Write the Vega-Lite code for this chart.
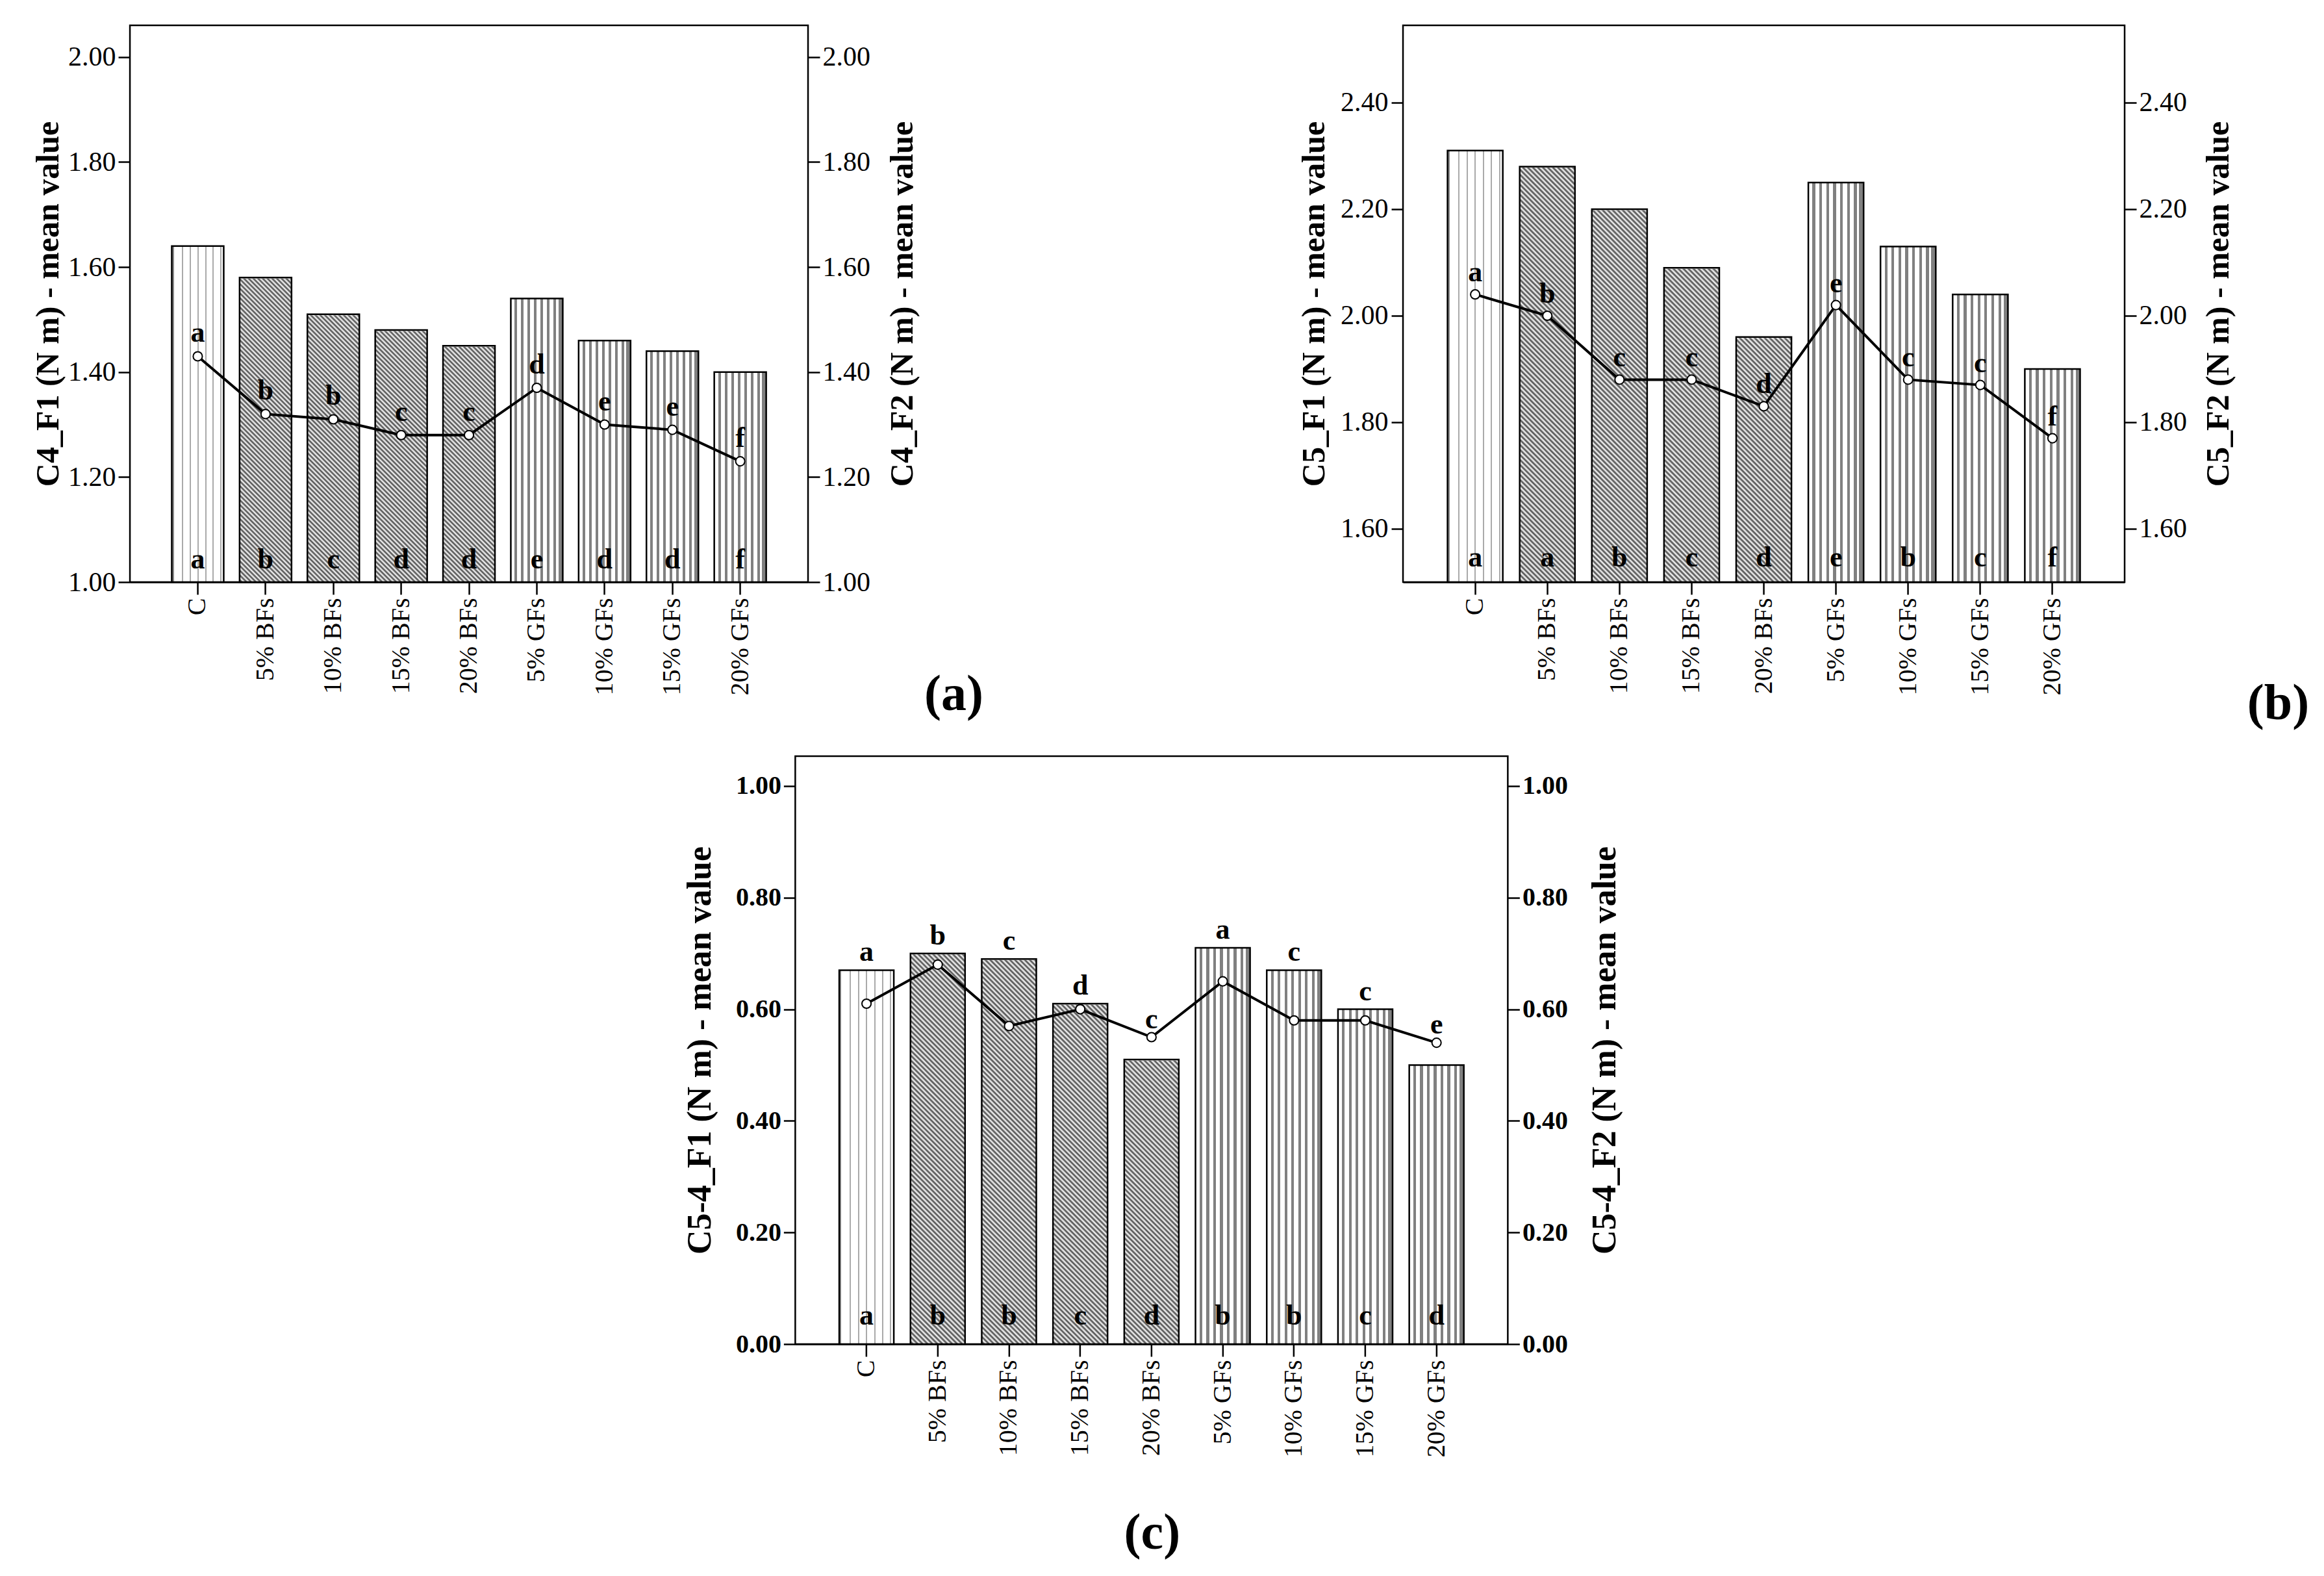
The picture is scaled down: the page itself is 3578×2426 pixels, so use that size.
{
"$schema": "https://vega.github.io/schema/vega-lite/v6.json",
"background": "white",
"padding": {"left": 48, "top": 37, "right": 0, "bottom": 0},
"spacing": 38,
"center": true,
"config": {
 "font": "Liberation Serif",
 "view": {"stroke": "black", "strokeWidth": 2.5},
 "axis": {"grid": false, "labelColor": "black", "titleColor": "black", "tickColor": "black", "domainColor": "black", "labelFont": "Liberation Serif", "titleFont": "Liberation Serif"},
 "title": {"font": "Liberation Serif", "color": "black"},
 "text": {"font": "Liberation Serif"}
},
"vconcat": [
 {"hconcat": [
  {
   "width": 1044, "height": 857,
   "data": {"values": [
    {"cat":"C","g":"C","f1":1.64,"f2":1.43,"lt":"a","lb":"a"},
    {"cat":"5% BFs","g":"BF","f1":1.58,"f2":1.32,"lt":"b","lb":"b"},
    {"cat":"10% BFs","g":"BF","f1":1.51,"f2":1.31,"lt":"b","lb":"c"},
    {"cat":"15% BFs","g":"BF","f1":1.48,"f2":1.28,"lt":"c","lb":"d"},
    {"cat":"20% BFs","g":"BF","f1":1.45,"f2":1.28,"lt":"c","lb":"d"},
    {"cat":"5% GFs","g":"GF","f1":1.54,"f2":1.37,"lt":"d","lb":"e"},
    {"cat":"10% GFs","g":"GF","f1":1.46,"f2":1.30,"lt":"e","lb":"d"},
    {"cat":"15% GFs","g":"GF","f1":1.44,"f2":1.29,"lt":"e","lb":"d"},
    {"cat":"20% GFs","g":"GF","f1":1.40,"f2":1.23,"lt":"f","lb":"f"}
   ]},
   "encoding": {"x": {"field": "cat", "type": "nominal",
     "scale": {"domain": ["C","5% BFs","10% BFs","15% BFs","20% BFs","5% GFs","10% GFs","15% GFs","20% GFs"], "paddingInner": 0.234, "paddingOuter": 0.617},
     "axis": {"title": "(a)", "titleX": 1268, "titleY": 173, "titleAlign": "center", "titleBaseline": "middle", "titleFontSize": 78, "titleFontWeight": "bold", "labelAngle": -90, "labelFontSize": 40, "labelPadding": 5, "tickSize": 19, "tickWidth": 2.5, "domainWidth": 2.5}}},
   "layer": [
    {"layer": [
     {"transform": [{"filter": "datum.g === 'C'"}], "mark": {"type": "bar", "stroke": "black", "strokeWidth": 2.5, "fill": {"gradient": "linear", "x1": 0, "y1": 0, "x2": 1, "y2": 0, "stops": [
   {"offset":0,"color":"#888"},{"offset":0.04,"color":"#888"},{"offset":0.04,"color":"#fff"},{"offset":0.19,"color":"#fff"},{"offset":0.19,"color":"#aaa"},{"offset":0.215,"color":"#aaa"},{"offset":0.215,"color":"#fff"},{"offset":0.34,"color":"#fff"},{"offset":0.34,"color":"#aaa"},{"offset":0.365,"color":"#aaa"},{"offset":0.365,"color":"#fff"},{"offset":0.49,"color":"#fff"},{"offset":0.49,"color":"#aaa"},{"offset":0.515,"color":"#aaa"},{"offset":0.515,"color":"#fff"},{"offset":0.64,"color":"#fff"},{"offset":0.64,"color":"#aaa"},{"offset":0.665,"color":"#aaa"},{"offset":0.665,"color":"#fff"},{"offset":0.78,"color":"#fff"},{"offset":0.78,"color":"#aaa"},{"offset":0.805,"color":"#aaa"},{"offset":0.805,"color":"#fff"},{"offset":0.93,"color":"#fff"},{"offset":0.93,"color":"#aaa"},{"offset":0.955,"color":"#aaa"},{"offset":0.955,"color":"#fff"},{"offset":1,"color":"#fff"}]}},
      "encoding": {"y": {"field": "f1", "type": "quantitative", "title": "C4_F1 (N m) - mean value", "scale": {"domain": [1, 2.0604], "nice": false, "zero": false},
        "axis": {"orient": "left", "values": [1, 1.2, 1.4, 1.6, 1.8, 2], "format": ".2f", "domain": false, "tickSize": 18, "tickWidth": 2.5, "labelFontSize": 42, "labelPadding": 4, "titleFontSize": 50, "titleFontWeight": "bold", "titlePadding": 5}},
       "y2": {"datum": 1}}},
     {"transform": [{"filter": "datum.g === 'GF'"}], "mark": {"type": "bar", "stroke": "black", "strokeWidth": 2.5, "fill": {"gradient": "linear", "x1": 0, "y1": 0, "x2": 1, "y2": 0, "stops": [
   {"offset":0,"color":"#fff"},{"offset":0.075,"color":"#fff"},{"offset":0.075,"color":"#808080"},{"offset":0.125,"color":"#808080"},
   {"offset":0.125,"color":"#fff"},{"offset":0.2,"color":"#fff"},{"offset":0.2,"color":"#808080"},{"offset":0.25,"color":"#808080"},
   {"offset":0.25,"color":"#fff"},{"offset":0.325,"color":"#fff"},{"offset":0.325,"color":"#808080"},{"offset":0.375,"color":"#808080"},
   {"offset":0.375,"color":"#fff"},{"offset":0.45,"color":"#fff"},{"offset":0.45,"color":"#808080"},{"offset":0.5,"color":"#808080"},
   {"offset":0.5,"color":"#fff"},{"offset":0.575,"color":"#fff"},{"offset":0.575,"color":"#808080"},{"offset":0.625,"color":"#808080"},
   {"offset":0.625,"color":"#fff"},{"offset":0.7,"color":"#fff"},{"offset":0.7,"color":"#808080"},{"offset":0.75,"color":"#808080"},
   {"offset":0.75,"color":"#fff"},{"offset":0.825,"color":"#fff"},{"offset":0.825,"color":"#808080"},{"offset":0.875,"color":"#808080"},
   {"offset":0.875,"color":"#fff"},{"offset":0.92,"color":"#fff"},{"offset":0.92,"color":"#808080"},{"offset":1,"color":"#808080"}]}},
      "encoding": {"y": {"field": "f1", "type": "quantitative", "title": "C4_F1 (N m) - mean value", "scale": {"domain": [1, 2.0604], "nice": false, "zero": false}}, "y2": {"datum": 1}}},
     {"transform": [{"filter": "datum.g === 'BF'"}], "mark": {"type": "bar", "fill": {"gradient": "linear", "x1": 0, "y1": 1, "x2": 0.13756, "y2": -0.10722, "stops": [
   {"offset":0,"color":"#fff"},{"offset":0.005,"color":"#444"},{"offset":0.01,"color":"#fff"},{"offset":0.015,"color":"#444"},{"offset":0.02,"color":"#fff"},{"offset":0.025,"color":"#444"},{"offset":0.03,"color":"#fff"},{"offset":0.035,"color":"#444"},{"offset":0.04,"color":"#fff"},{"offset":0.045,"color":"#444"},
   {"offset":0.05,"color":"#fff"},{"offset":0.055,"color":"#444"},{"offset":0.06,"color":"#fff"},{"offset":0.065,"color":"#444"},{"offset":0.07,"color":"#fff"},{"offset":0.075,"color":"#444"},{"offset":0.08,"color":"#fff"},{"offset":0.085,"color":"#444"},{"offset":0.09,"color":"#fff"},{"offset":0.095,"color":"#444"},
   {"offset":0.1,"color":"#fff"},{"offset":0.105,"color":"#444"},{"offset":0.11,"color":"#fff"},{"offset":0.115,"color":"#444"},{"offset":0.12,"color":"#fff"},{"offset":0.125,"color":"#444"},{"offset":0.13,"color":"#fff"},{"offset":0.135,"color":"#444"},{"offset":0.14,"color":"#fff"},{"offset":0.145,"color":"#444"},
   {"offset":0.15,"color":"#fff"},{"offset":0.155,"color":"#444"},{"offset":0.16,"color":"#fff"},{"offset":0.165,"color":"#444"},{"offset":0.17,"color":"#fff"},{"offset":0.175,"color":"#444"},{"offset":0.18,"color":"#fff"},{"offset":0.185,"color":"#444"},{"offset":0.19,"color":"#fff"},{"offset":0.195,"color":"#444"},
   {"offset":0.2,"color":"#fff"},{"offset":0.205,"color":"#444"},{"offset":0.21,"color":"#fff"},{"offset":0.215,"color":"#444"},{"offset":0.22,"color":"#fff"},{"offset":0.225,"color":"#444"},{"offset":0.23,"color":"#fff"},{"offset":0.235,"color":"#444"},{"offset":0.24,"color":"#fff"},{"offset":0.245,"color":"#444"},
   {"offset":0.25,"color":"#fff"},{"offset":0.255,"color":"#444"},{"offset":0.26,"color":"#fff"},{"offset":0.265,"color":"#444"},{"offset":0.27,"color":"#fff"},{"offset":0.275,"color":"#444"},{"offset":0.28,"color":"#fff"},{"offset":0.285,"color":"#444"},{"offset":0.29,"color":"#fff"},{"offset":0.295,"color":"#444"},
   {"offset":0.3,"color":"#fff"},{"offset":0.305,"color":"#444"},{"offset":0.31,"color":"#fff"},{"offset":0.315,"color":"#444"},{"offset":0.32,"color":"#fff"},{"offset":0.325,"color":"#444"},{"offset":0.33,"color":"#fff"},{"offset":0.335,"color":"#444"},{"offset":0.34,"color":"#fff"},{"offset":0.345,"color":"#444"},
   {"offset":0.35,"color":"#fff"},{"offset":0.355,"color":"#444"},{"offset":0.36,"color":"#fff"},{"offset":0.365,"color":"#444"},{"offset":0.37,"color":"#fff"},{"offset":0.375,"color":"#444"},{"offset":0.38,"color":"#fff"},{"offset":0.385,"color":"#444"},{"offset":0.39,"color":"#fff"},{"offset":0.395,"color":"#444"},
   {"offset":0.4,"color":"#fff"},{"offset":0.405,"color":"#444"},{"offset":0.41,"color":"#fff"},{"offset":0.415,"color":"#444"},{"offset":0.42,"color":"#fff"},{"offset":0.425,"color":"#444"},{"offset":0.43,"color":"#fff"},{"offset":0.435,"color":"#444"},{"offset":0.44,"color":"#fff"},{"offset":0.445,"color":"#444"},
   {"offset":0.45,"color":"#fff"},{"offset":0.455,"color":"#444"},{"offset":0.46,"color":"#fff"},{"offset":0.465,"color":"#444"},{"offset":0.47,"color":"#fff"},{"offset":0.475,"color":"#444"},{"offset":0.48,"color":"#fff"},{"offset":0.485,"color":"#444"},{"offset":0.49,"color":"#fff"},{"offset":0.495,"color":"#444"},
   {"offset":0.5,"color":"#fff"},{"offset":0.505,"color":"#444"},{"offset":0.51,"color":"#fff"},{"offset":0.515,"color":"#444"},{"offset":0.52,"color":"#fff"},{"offset":0.525,"color":"#444"},{"offset":0.53,"color":"#fff"},{"offset":0.535,"color":"#444"},{"offset":0.54,"color":"#fff"},{"offset":0.545,"color":"#444"},
   {"offset":0.55,"color":"#fff"},{"offset":0.555,"color":"#444"},{"offset":0.56,"color":"#fff"},{"offset":0.565,"color":"#444"},{"offset":0.57,"color":"#fff"},{"offset":0.575,"color":"#444"},{"offset":0.58,"color":"#fff"},{"offset":0.585,"color":"#444"},{"offset":0.59,"color":"#fff"},{"offset":0.595,"color":"#444"},
   {"offset":0.6,"color":"#fff"},{"offset":0.605,"color":"#444"},{"offset":0.61,"color":"#fff"},{"offset":0.615,"color":"#444"},{"offset":0.62,"color":"#fff"},{"offset":0.625,"color":"#444"},{"offset":0.63,"color":"#fff"},{"offset":0.635,"color":"#444"},{"offset":0.64,"color":"#fff"},{"offset":0.645,"color":"#444"},
   {"offset":0.65,"color":"#fff"},{"offset":0.655,"color":"#444"},{"offset":0.66,"color":"#fff"},{"offset":0.665,"color":"#444"},{"offset":0.67,"color":"#fff"},{"offset":0.675,"color":"#444"},{"offset":0.68,"color":"#fff"},{"offset":0.685,"color":"#444"},{"offset":0.69,"color":"#fff"},{"offset":0.695,"color":"#444"},
   {"offset":0.7,"color":"#fff"},{"offset":0.705,"color":"#444"},{"offset":0.71,"color":"#fff"},{"offset":0.715,"color":"#444"},{"offset":0.72,"color":"#fff"},{"offset":0.725,"color":"#444"},{"offset":0.73,"color":"#fff"},{"offset":0.735,"color":"#444"},{"offset":0.74,"color":"#fff"},{"offset":0.745,"color":"#444"},
   {"offset":0.75,"color":"#fff"},{"offset":0.755,"color":"#444"},{"offset":0.76,"color":"#fff"},{"offset":0.765,"color":"#444"},{"offset":0.77,"color":"#fff"},{"offset":0.775,"color":"#444"},{"offset":0.78,"color":"#fff"},{"offset":0.785,"color":"#444"},{"offset":0.79,"color":"#fff"},{"offset":0.795,"color":"#444"},
   {"offset":0.8,"color":"#fff"},{"offset":0.805,"color":"#444"},{"offset":0.81,"color":"#fff"},{"offset":0.815,"color":"#444"},{"offset":0.82,"color":"#fff"},{"offset":0.825,"color":"#444"},{"offset":0.83,"color":"#fff"},{"offset":0.835,"color":"#444"},{"offset":0.84,"color":"#fff"},{"offset":0.845,"color":"#444"},
   {"offset":0.85,"color":"#fff"},{"offset":0.855,"color":"#444"},{"offset":0.86,"color":"#fff"},{"offset":0.865,"color":"#444"},{"offset":0.87,"color":"#fff"},{"offset":0.875,"color":"#444"},{"offset":0.88,"color":"#fff"},{"offset":0.885,"color":"#444"},{"offset":0.89,"color":"#fff"},{"offset":0.895,"color":"#444"},
   {"offset":0.9,"color":"#fff"},{"offset":0.905,"color":"#444"},{"offset":0.91,"color":"#fff"},{"offset":0.915,"color":"#444"},{"offset":0.92,"color":"#fff"},{"offset":0.925,"color":"#444"},{"offset":0.93,"color":"#fff"},{"offset":0.935,"color":"#444"},{"offset":0.94,"color":"#fff"},{"offset":0.945,"color":"#444"},
   {"offset":0.95,"color":"#fff"},{"offset":0.955,"color":"#444"},{"offset":0.96,"color":"#fff"},{"offset":0.965,"color":"#444"},{"offset":0.97,"color":"#fff"},{"offset":0.975,"color":"#444"},{"offset":0.98,"color":"#fff"},{"offset":0.985,"color":"#444"},{"offset":0.99,"color":"#fff"},{"offset":0.995,"color":"#444"},
   {"offset":1,"color":"#fff"}]}},
      "encoding": {"y": {"datum": 1.7965, "type": "quantitative", "title": "C4_F1 (N m) - mean value", "scale": {"domain": [1, 2.0604], "nice": false, "zero": false}}, "y2": {"datum": 1}}},
     {"transform": [{"filter": "datum.g === 'BF'"}], "mark": {"type": "bar", "fill": "white", "stroke": "white", "strokeWidth": 3},
      "encoding": {"y": {"field": "f1", "type": "quantitative", "title": "C4_F1 (N m) - mean value", "scale": {"domain": [1, 2.0604], "nice": false, "zero": false}}, "y2": {"datum": 1.7965}}},
     {"transform": [{"filter": "datum.g === 'BF'"}], "mark": {"type": "bar", "fill": "transparent", "stroke": "black", "strokeWidth": 2.5},
      "encoding": {"y": {"field": "f1", "type": "quantitative", "title": "C4_F1 (N m) - mean value", "scale": {"domain": [1, 2.0604], "nice": false, "zero": false}}, "y2": {"datum": 1}}}
    ]},
    {"layer": [
     {"mark": {"type": "line", "color": "black", "strokeWidth": 4},
      "encoding": {"y": {"field": "f2", "type": "quantitative", "title": "C4_F2 (N m) - mean value", "scale": {"domain": [1, 2.0604], "nice": false, "zero": false},
        "axis": {"orient": "right", "values": [1, 1.2, 1.4, 1.6, 1.8, 2], "format": ".2f", "domain": false, "tickSize": 18, "tickWidth": 2.5, "labelFontSize": 42, "labelPadding": 4, "titleFontSize": 50, "titleFontWeight": "bold", "titleAngle": 270, "titleBaseline": "top", "titlePadding": 25}}}},
     {"mark": {"type": "point", "shape": "circle", "filled": true, "fill": "white", "stroke": "black", "strokeWidth": 2, "size": 200, "opacity": 1},
      "encoding": {"y": {"field": "f2", "type": "quantitative", "title": "C4_F2 (N m) - mean value", "scale": {"domain": [1, 2.0604], "nice": false, "zero": false}}}},
     {"mark": {"type": "text", "dy": -22, "baseline": "alphabetic", "fontSize": 44, "fontWeight": "bold", "color": "black"},
      "encoding": {"y": {"field": "f2", "type": "quantitative", "title": "C4_F2 (N m) - mean value", "scale": {"domain": [1, 2.0604], "nice": false, "zero": false}}, "text": {"field": "lt"}}},
     {"mark": {"type": "text", "dy": -21, "baseline": "alphabetic", "fontSize": 44, "fontWeight": "bold", "color": "black"},
      "encoding": {"y": {"datum": 1, "type": "quantitative", "title": "C4_F2 (N m) - mean value", "scale": {"domain": [1, 2.0604], "nice": false, "zero": false}}, "text": {"field": "lb"}}}
    ]}
   ],
   "resolve": {"scale": {"y": "independent"}}
  },
  {
   "width": 1111, "height": 857,
   "data": {"values": [
    {"cat":"C","g":"C","f1":2.31,"f2":2.04,"lt":"a","lb":"a"},
    {"cat":"5% BFs","g":"BF","f1":2.28,"f2":2.00,"lt":"b","lb":"a"},
    {"cat":"10% BFs","g":"BF","f1":2.20,"f2":1.88,"lt":"c","lb":"b"},
    {"cat":"15% BFs","g":"BF","f1":2.09,"f2":1.88,"lt":"c","lb":"c"},
    {"cat":"20% BFs","g":"BF","f1":1.96,"f2":1.83,"lt":"d","lb":"d"},
    {"cat":"5% GFs","g":"GF","f1":2.25,"f2":2.02,"lt":"e","lb":"e"},
    {"cat":"10% GFs","g":"GF","f1":2.13,"f2":1.88,"lt":"c","lb":"b"},
    {"cat":"15% GFs","g":"GF","f1":2.04,"f2":1.87,"lt":"c","lb":"c"},
    {"cat":"20% GFs","g":"GF","f1":1.90,"f2":1.77,"lt":"f","lb":"f"}
   ]},
   "encoding": {"x": {"field": "cat", "type": "nominal",
     "scale": {"domain": ["C","5% BFs","10% BFs","15% BFs","20% BFs","5% GFs","10% GFs","15% GFs","20% GFs"], "paddingInner": 0.234, "paddingOuter": 0.617},
     "axis": {"title": "(b)", "titleX": 1347, "titleY": 187, "titleAlign": "center", "titleBaseline": "middle", "titleFontSize": 78, "titleFontWeight": "bold", "labelAngle": -90, "labelFontSize": 40, "labelPadding": 5, "tickSize": 19, "tickWidth": 2.5, "domainWidth": 2.5}}},
   "layer": [
    {"layer": [
     {"transform": [{"filter": "datum.g === 'C'"}], "mark": {"type": "bar", "stroke": "black", "strokeWidth": 2.5, "fill": {"gradient": "linear", "x1": 0, "y1": 0, "x2": 1, "y2": 0, "stops": [
   {"offset":0,"color":"#888"},{"offset":0.04,"color":"#888"},{"offset":0.04,"color":"#fff"},{"offset":0.19,"color":"#fff"},{"offset":0.19,"color":"#aaa"},{"offset":0.215,"color":"#aaa"},{"offset":0.215,"color":"#fff"},{"offset":0.34,"color":"#fff"},{"offset":0.34,"color":"#aaa"},{"offset":0.365,"color":"#aaa"},{"offset":0.365,"color":"#fff"},{"offset":0.49,"color":"#fff"},{"offset":0.49,"color":"#aaa"},{"offset":0.515,"color":"#aaa"},{"offset":0.515,"color":"#fff"},{"offset":0.64,"color":"#fff"},{"offset":0.64,"color":"#aaa"},{"offset":0.665,"color":"#aaa"},{"offset":0.665,"color":"#fff"},{"offset":0.78,"color":"#fff"},{"offset":0.78,"color":"#aaa"},{"offset":0.805,"color":"#aaa"},{"offset":0.805,"color":"#fff"},{"offset":0.93,"color":"#fff"},{"offset":0.93,"color":"#aaa"},{"offset":0.955,"color":"#aaa"},{"offset":0.955,"color":"#fff"},{"offset":1,"color":"#fff"}]}},
      "encoding": {"y": {"field": "f1", "type": "quantitative", "title": "C5_F1 (N m) - mean value", "scale": {"domain": [1.5, 2.5451], "nice": false, "zero": false},
        "axis": {"orient": "left", "values": [1.6, 1.8, 2, 2.2, 2.4], "format": ".2f", "domain": false, "tickSize": 18, "tickWidth": 2.5, "labelFontSize": 42, "labelPadding": 5, "titleFontSize": 50, "titleFontWeight": "bold", "titlePadding": 15}},
       "y2": {"datum": 1.5}}},
     {"transform": [{"filter": "datum.g === 'GF'"}], "mark": {"type": "bar", "stroke": "black", "strokeWidth": 2.5, "fill": {"gradient": "linear", "x1": 0, "y1": 0, "x2": 1, "y2": 0, "stops": [
   {"offset":0,"color":"#fff"},{"offset":0.075,"color":"#fff"},{"offset":0.075,"color":"#808080"},{"offset":0.125,"color":"#808080"},
   {"offset":0.125,"color":"#fff"},{"offset":0.2,"color":"#fff"},{"offset":0.2,"color":"#808080"},{"offset":0.25,"color":"#808080"},
   {"offset":0.25,"color":"#fff"},{"offset":0.325,"color":"#fff"},{"offset":0.325,"color":"#808080"},{"offset":0.375,"color":"#808080"},
   {"offset":0.375,"color":"#fff"},{"offset":0.45,"color":"#fff"},{"offset":0.45,"color":"#808080"},{"offset":0.5,"color":"#808080"},
   {"offset":0.5,"color":"#fff"},{"offset":0.575,"color":"#fff"},{"offset":0.575,"color":"#808080"},{"offset":0.625,"color":"#808080"},
   {"offset":0.625,"color":"#fff"},{"offset":0.7,"color":"#fff"},{"offset":0.7,"color":"#808080"},{"offset":0.75,"color":"#808080"},
   {"offset":0.75,"color":"#fff"},{"offset":0.825,"color":"#fff"},{"offset":0.825,"color":"#808080"},{"offset":0.875,"color":"#808080"},
   {"offset":0.875,"color":"#fff"},{"offset":0.92,"color":"#fff"},{"offset":0.92,"color":"#808080"},{"offset":1,"color":"#808080"}]}},
      "encoding": {"y": {"field": "f1", "type": "quantitative", "title": "C5_F1 (N m) - mean value", "scale": {"domain": [1.5, 2.5451], "nice": false, "zero": false}}, "y2": {"datum": 1.5}}},
     {"transform": [{"filter": "datum.g === 'BF'"}], "mark": {"type": "bar", "fill": {"gradient": "linear", "x1": 0, "y1": 1, "x2": 0.13756, "y2": -0.10722, "stops": [
   {"offset":0,"color":"#fff"},{"offset":0.005,"color":"#444"},{"offset":0.01,"color":"#fff"},{"offset":0.015,"color":"#444"},{"offset":0.02,"color":"#fff"},{"offset":0.025,"color":"#444"},{"offset":0.03,"color":"#fff"},{"offset":0.035,"color":"#444"},{"offset":0.04,"color":"#fff"},{"offset":0.045,"color":"#444"},
   {"offset":0.05,"color":"#fff"},{"offset":0.055,"color":"#444"},{"offset":0.06,"color":"#fff"},{"offset":0.065,"color":"#444"},{"offset":0.07,"color":"#fff"},{"offset":0.075,"color":"#444"},{"offset":0.08,"color":"#fff"},{"offset":0.085,"color":"#444"},{"offset":0.09,"color":"#fff"},{"offset":0.095,"color":"#444"},
   {"offset":0.1,"color":"#fff"},{"offset":0.105,"color":"#444"},{"offset":0.11,"color":"#fff"},{"offset":0.115,"color":"#444"},{"offset":0.12,"color":"#fff"},{"offset":0.125,"color":"#444"},{"offset":0.13,"color":"#fff"},{"offset":0.135,"color":"#444"},{"offset":0.14,"color":"#fff"},{"offset":0.145,"color":"#444"},
   {"offset":0.15,"color":"#fff"},{"offset":0.155,"color":"#444"},{"offset":0.16,"color":"#fff"},{"offset":0.165,"color":"#444"},{"offset":0.17,"color":"#fff"},{"offset":0.175,"color":"#444"},{"offset":0.18,"color":"#fff"},{"offset":0.185,"color":"#444"},{"offset":0.19,"color":"#fff"},{"offset":0.195,"color":"#444"},
   {"offset":0.2,"color":"#fff"},{"offset":0.205,"color":"#444"},{"offset":0.21,"color":"#fff"},{"offset":0.215,"color":"#444"},{"offset":0.22,"color":"#fff"},{"offset":0.225,"color":"#444"},{"offset":0.23,"color":"#fff"},{"offset":0.235,"color":"#444"},{"offset":0.24,"color":"#fff"},{"offset":0.245,"color":"#444"},
   {"offset":0.25,"color":"#fff"},{"offset":0.255,"color":"#444"},{"offset":0.26,"color":"#fff"},{"offset":0.265,"color":"#444"},{"offset":0.27,"color":"#fff"},{"offset":0.275,"color":"#444"},{"offset":0.28,"color":"#fff"},{"offset":0.285,"color":"#444"},{"offset":0.29,"color":"#fff"},{"offset":0.295,"color":"#444"},
   {"offset":0.3,"color":"#fff"},{"offset":0.305,"color":"#444"},{"offset":0.31,"color":"#fff"},{"offset":0.315,"color":"#444"},{"offset":0.32,"color":"#fff"},{"offset":0.325,"color":"#444"},{"offset":0.33,"color":"#fff"},{"offset":0.335,"color":"#444"},{"offset":0.34,"color":"#fff"},{"offset":0.345,"color":"#444"},
   {"offset":0.35,"color":"#fff"},{"offset":0.355,"color":"#444"},{"offset":0.36,"color":"#fff"},{"offset":0.365,"color":"#444"},{"offset":0.37,"color":"#fff"},{"offset":0.375,"color":"#444"},{"offset":0.38,"color":"#fff"},{"offset":0.385,"color":"#444"},{"offset":0.39,"color":"#fff"},{"offset":0.395,"color":"#444"},
   {"offset":0.4,"color":"#fff"},{"offset":0.405,"color":"#444"},{"offset":0.41,"color":"#fff"},{"offset":0.415,"color":"#444"},{"offset":0.42,"color":"#fff"},{"offset":0.425,"color":"#444"},{"offset":0.43,"color":"#fff"},{"offset":0.435,"color":"#444"},{"offset":0.44,"color":"#fff"},{"offset":0.445,"color":"#444"},
   {"offset":0.45,"color":"#fff"},{"offset":0.455,"color":"#444"},{"offset":0.46,"color":"#fff"},{"offset":0.465,"color":"#444"},{"offset":0.47,"color":"#fff"},{"offset":0.475,"color":"#444"},{"offset":0.48,"color":"#fff"},{"offset":0.485,"color":"#444"},{"offset":0.49,"color":"#fff"},{"offset":0.495,"color":"#444"},
   {"offset":0.5,"color":"#fff"},{"offset":0.505,"color":"#444"},{"offset":0.51,"color":"#fff"},{"offset":0.515,"color":"#444"},{"offset":0.52,"color":"#fff"},{"offset":0.525,"color":"#444"},{"offset":0.53,"color":"#fff"},{"offset":0.535,"color":"#444"},{"offset":0.54,"color":"#fff"},{"offset":0.545,"color":"#444"},
   {"offset":0.55,"color":"#fff"},{"offset":0.555,"color":"#444"},{"offset":0.56,"color":"#fff"},{"offset":0.565,"color":"#444"},{"offset":0.57,"color":"#fff"},{"offset":0.575,"color":"#444"},{"offset":0.58,"color":"#fff"},{"offset":0.585,"color":"#444"},{"offset":0.59,"color":"#fff"},{"offset":0.595,"color":"#444"},
   {"offset":0.6,"color":"#fff"},{"offset":0.605,"color":"#444"},{"offset":0.61,"color":"#fff"},{"offset":0.615,"color":"#444"},{"offset":0.62,"color":"#fff"},{"offset":0.625,"color":"#444"},{"offset":0.63,"color":"#fff"},{"offset":0.635,"color":"#444"},{"offset":0.64,"color":"#fff"},{"offset":0.645,"color":"#444"},
   {"offset":0.65,"color":"#fff"},{"offset":0.655,"color":"#444"},{"offset":0.66,"color":"#fff"},{"offset":0.665,"color":"#444"},{"offset":0.67,"color":"#fff"},{"offset":0.675,"color":"#444"},{"offset":0.68,"color":"#fff"},{"offset":0.685,"color":"#444"},{"offset":0.69,"color":"#fff"},{"offset":0.695,"color":"#444"},
   {"offset":0.7,"color":"#fff"},{"offset":0.705,"color":"#444"},{"offset":0.71,"color":"#fff"},{"offset":0.715,"color":"#444"},{"offset":0.72,"color":"#fff"},{"offset":0.725,"color":"#444"},{"offset":0.73,"color":"#fff"},{"offset":0.735,"color":"#444"},{"offset":0.74,"color":"#fff"},{"offset":0.745,"color":"#444"},
   {"offset":0.75,"color":"#fff"},{"offset":0.755,"color":"#444"},{"offset":0.76,"color":"#fff"},{"offset":0.765,"color":"#444"},{"offset":0.77,"color":"#fff"},{"offset":0.775,"color":"#444"},{"offset":0.78,"color":"#fff"},{"offset":0.785,"color":"#444"},{"offset":0.79,"color":"#fff"},{"offset":0.795,"color":"#444"},
   {"offset":0.8,"color":"#fff"},{"offset":0.805,"color":"#444"},{"offset":0.81,"color":"#fff"},{"offset":0.815,"color":"#444"},{"offset":0.82,"color":"#fff"},{"offset":0.825,"color":"#444"},{"offset":0.83,"color":"#fff"},{"offset":0.835,"color":"#444"},{"offset":0.84,"color":"#fff"},{"offset":0.845,"color":"#444"},
   {"offset":0.85,"color":"#fff"},{"offset":0.855,"color":"#444"},{"offset":0.86,"color":"#fff"},{"offset":0.865,"color":"#444"},{"offset":0.87,"color":"#fff"},{"offset":0.875,"color":"#444"},{"offset":0.88,"color":"#fff"},{"offset":0.885,"color":"#444"},{"offset":0.89,"color":"#fff"},{"offset":0.895,"color":"#444"},
   {"offset":0.9,"color":"#fff"},{"offset":0.905,"color":"#444"},{"offset":0.91,"color":"#fff"},{"offset":0.915,"color":"#444"},{"offset":0.92,"color":"#fff"},{"offset":0.925,"color":"#444"},{"offset":0.93,"color":"#fff"},{"offset":0.935,"color":"#444"},{"offset":0.94,"color":"#fff"},{"offset":0.945,"color":"#444"},
   {"offset":0.95,"color":"#fff"},{"offset":0.955,"color":"#444"},{"offset":0.96,"color":"#fff"},{"offset":0.965,"color":"#444"},{"offset":0.97,"color":"#fff"},{"offset":0.975,"color":"#444"},{"offset":0.98,"color":"#fff"},{"offset":0.985,"color":"#444"},{"offset":0.99,"color":"#fff"},{"offset":0.995,"color":"#444"},
   {"offset":1,"color":"#fff"}]}},
      "encoding": {"y": {"datum": 2.3354, "type": "quantitative", "title": "C5_F1 (N m) - mean value", "scale": {"domain": [1.5, 2.5451], "nice": false, "zero": false}}, "y2": {"datum": 1.5}}},
     {"transform": [{"filter": "datum.g === 'BF'"}], "mark": {"type": "bar", "fill": "white", "stroke": "white", "strokeWidth": 3},
      "encoding": {"y": {"field": "f1", "type": "quantitative", "title": "C5_F1 (N m) - mean value", "scale": {"domain": [1.5, 2.5451], "nice": false, "zero": false}}, "y2": {"datum": 2.3354}}},
     {"transform": [{"filter": "datum.g === 'BF'"}], "mark": {"type": "bar", "fill": "transparent", "stroke": "black", "strokeWidth": 2.5},
      "encoding": {"y": {"field": "f1", "type": "quantitative", "title": "C5_F1 (N m) - mean value", "scale": {"domain": [1.5, 2.5451], "nice": false, "zero": false}}, "y2": {"datum": 1.5}}}
    ]},
    {"layer": [
     {"mark": {"type": "line", "color": "black", "strokeWidth": 4},
      "encoding": {"y": {"field": "f2", "type": "quantitative", "title": "C5_F2 (N m) - mean value", "scale": {"domain": [1.5, 2.5451], "nice": false, "zero": false},
        "axis": {"orient": "right", "values": [1.6, 1.8, 2, 2.2, 2.4], "format": ".2f", "domain": false, "tickSize": 18, "tickWidth": 2.5, "labelFontSize": 42, "labelPadding": 4, "titleFontSize": 50, "titleFontWeight": "bold", "titleAngle": 270, "titleBaseline": "top", "titlePadding": 24}}}},
     {"mark": {"type": "point", "shape": "circle", "filled": true, "fill": "white", "stroke": "black", "strokeWidth": 2, "size": 200, "opacity": 1},
      "encoding": {"y": {"field": "f2", "type": "quantitative", "title": "C5_F2 (N m) - mean value", "scale": {"domain": [1.5, 2.5451], "nice": false, "zero": false}}}},
     {"mark": {"type": "text", "dy": -20, "baseline": "alphabetic", "fontSize": 44, "fontWeight": "bold", "color": "black"},
      "encoding": {"y": {"field": "f2", "type": "quantitative", "title": "C5_F2 (N m) - mean value", "scale": {"domain": [1.5, 2.5451], "nice": false, "zero": false}}, "text": {"field": "lt"}}},
     {"mark": {"type": "text", "dy": -24, "baseline": "alphabetic", "fontSize": 44, "fontWeight": "bold", "color": "black"},
      "encoding": {"y": {"datum": 1.5, "type": "quantitative", "title": "C5_F2 (N m) - mean value", "scale": {"domain": [1.5, 2.5451], "nice": false, "zero": false}}, "text": {"field": "lb"}}}
    ]}
   ],
   "resolve": {"scale": {"y": "independent"}}
  }
 ], "spacing": 482},
 {
  "width": 1097, "height": 905,
  "title": {"text": " ", "orient": "right", "fontSize": 10, "offset": 24},
  "data": {"values": [
   {"cat":"C","g":"C","f1":0.67,"f2":0.61,"lt":"a","lb":"a"},
   {"cat":"5% BFs","g":"BF","f1":0.70,"f2":0.68,"lt":"b","lb":"b"},
   {"cat":"10% BFs","g":"BF","f1":0.69,"f2":0.57,"lt":"c","lb":"b"},
   {"cat":"15% BFs","g":"BF","f1":0.61,"f2":0.60,"lt":"d","lb":"c"},
   {"cat":"20% BFs","g":"BF","f1":0.51,"f2":0.55,"lt":"c","lb":"d"},
   {"cat":"5% GFs","g":"GF","f1":0.71,"f2":0.65,"lt":"a","lb":"b"},
   {"cat":"10% GFs","g":"GF","f1":0.67,"f2":0.58,"lt":"c","lb":"b"},
   {"cat":"15% GFs","g":"GF","f1":0.60,"f2":0.58,"lt":"c","lb":"c"},
   {"cat":"20% GFs","g":"GF","f1":0.50,"f2":0.54,"lt":"e","lb":"d"}
  ]},
  "encoding": {"x": {"field": "cat", "type": "nominal",
    "scale": {"domain": ["C","5% BFs","10% BFs","15% BFs","20% BFs","5% GFs","10% GFs","15% GFs","20% GFs"], "paddingInner": 0.234, "paddingOuter": 0.617},
    "axis": {"title": "(c)", "titleX": 549, "titleY": 291, "titleAlign": "center", "titleBaseline": "middle", "titleFontSize": 78, "titleFontWeight": "bold", "labelAngle": -90, "labelFontSize": 40, "labelPadding": 5, "tickSize": 19, "tickWidth": 2.5, "domainWidth": 2.5}}},
  "layer": [
   {"layer": [
    {"transform": [{"filter": "datum.g === 'C'"}], "mark": {"type": "bar", "stroke": "black", "strokeWidth": 2.5, "fill": {"gradient": "linear", "x1": 0, "y1": 0, "x2": 1, "y2": 0, "stops": [
   {"offset":0,"color":"#888"},{"offset":0.04,"color":"#888"},{"offset":0.04,"color":"#fff"},{"offset":0.19,"color":"#fff"},{"offset":0.19,"color":"#aaa"},{"offset":0.215,"color":"#aaa"},{"offset":0.215,"color":"#fff"},{"offset":0.34,"color":"#fff"},{"offset":0.34,"color":"#aaa"},{"offset":0.365,"color":"#aaa"},{"offset":0.365,"color":"#fff"},{"offset":0.49,"color":"#fff"},{"offset":0.49,"color":"#aaa"},{"offset":0.515,"color":"#aaa"},{"offset":0.515,"color":"#fff"},{"offset":0.64,"color":"#fff"},{"offset":0.64,"color":"#aaa"},{"offset":0.665,"color":"#aaa"},{"offset":0.665,"color":"#fff"},{"offset":0.78,"color":"#fff"},{"offset":0.78,"color":"#aaa"},{"offset":0.805,"color":"#aaa"},{"offset":0.805,"color":"#fff"},{"offset":0.93,"color":"#fff"},{"offset":0.93,"color":"#aaa"},{"offset":0.955,"color":"#aaa"},{"offset":0.955,"color":"#fff"},{"offset":1,"color":"#fff"}]}},
     "encoding": {"y": {"field": "f1", "type": "quantitative", "title": "C5-4_F1 (N m) - mean value", "scale": {"domain": [0, 1.0535], "nice": false, "zero": false},
       "axis": {"orient": "left", "values": [0, 0.2, 0.4, 0.6, 0.8, 1], "format": ".2f", "domain": false, "tickSize": 18, "tickWidth": 2.5, "labelFontSize": 40, "labelFontWeight": "bold", "labelPadding": 4, "titleFontSize": 52, "titleFontWeight": "bold", "titlePadding": 28}},
      "y2": {"datum": 0}}},
    {"transform": [{"filter": "datum.g === 'GF'"}], "mark": {"type": "bar", "stroke": "black", "strokeWidth": 2.5, "fill": {"gradient": "linear", "x1": 0, "y1": 0, "x2": 1, "y2": 0, "stops": [
   {"offset":0,"color":"#fff"},{"offset":0.075,"color":"#fff"},{"offset":0.075,"color":"#808080"},{"offset":0.125,"color":"#808080"},
   {"offset":0.125,"color":"#fff"},{"offset":0.2,"color":"#fff"},{"offset":0.2,"color":"#808080"},{"offset":0.25,"color":"#808080"},
   {"offset":0.25,"color":"#fff"},{"offset":0.325,"color":"#fff"},{"offset":0.325,"color":"#808080"},{"offset":0.375,"color":"#808080"},
   {"offset":0.375,"color":"#fff"},{"offset":0.45,"color":"#fff"},{"offset":0.45,"color":"#808080"},{"offset":0.5,"color":"#808080"},
   {"offset":0.5,"color":"#fff"},{"offset":0.575,"color":"#fff"},{"offset":0.575,"color":"#808080"},{"offset":0.625,"color":"#808080"},
   {"offset":0.625,"color":"#fff"},{"offset":0.7,"color":"#fff"},{"offset":0.7,"color":"#808080"},{"offset":0.75,"color":"#808080"},
   {"offset":0.75,"color":"#fff"},{"offset":0.825,"color":"#fff"},{"offset":0.825,"color":"#808080"},{"offset":0.875,"color":"#808080"},
   {"offset":0.875,"color":"#fff"},{"offset":0.92,"color":"#fff"},{"offset":0.92,"color":"#808080"},{"offset":1,"color":"#808080"}]}},
     "encoding": {"y": {"field": "f1", "type": "quantitative", "title": "C5-4_F1 (N m) - mean value", "scale": {"domain": [0, 1.0535], "nice": false, "zero": false}}, "y2": {"datum": 0}}},
    {"transform": [{"filter": "datum.g === 'BF'"}], "mark": {"type": "bar", "fill": {"gradient": "linear", "x1": 0, "y1": 1, "x2": 0.13756, "y2": -0.10722, "stops": [
   {"offset":0,"color":"#fff"},{"offset":0.005,"color":"#444"},{"offset":0.01,"color":"#fff"},{"offset":0.015,"color":"#444"},{"offset":0.02,"color":"#fff"},{"offset":0.025,"color":"#444"},{"offset":0.03,"color":"#fff"},{"offset":0.035,"color":"#444"},{"offset":0.04,"color":"#fff"},{"offset":0.045,"color":"#444"},
   {"offset":0.05,"color":"#fff"},{"offset":0.055,"color":"#444"},{"offset":0.06,"color":"#fff"},{"offset":0.065,"color":"#444"},{"offset":0.07,"color":"#fff"},{"offset":0.075,"color":"#444"},{"offset":0.08,"color":"#fff"},{"offset":0.085,"color":"#444"},{"offset":0.09,"color":"#fff"},{"offset":0.095,"color":"#444"},
   {"offset":0.1,"color":"#fff"},{"offset":0.105,"color":"#444"},{"offset":0.11,"color":"#fff"},{"offset":0.115,"color":"#444"},{"offset":0.12,"color":"#fff"},{"offset":0.125,"color":"#444"},{"offset":0.13,"color":"#fff"},{"offset":0.135,"color":"#444"},{"offset":0.14,"color":"#fff"},{"offset":0.145,"color":"#444"},
   {"offset":0.15,"color":"#fff"},{"offset":0.155,"color":"#444"},{"offset":0.16,"color":"#fff"},{"offset":0.165,"color":"#444"},{"offset":0.17,"color":"#fff"},{"offset":0.175,"color":"#444"},{"offset":0.18,"color":"#fff"},{"offset":0.185,"color":"#444"},{"offset":0.19,"color":"#fff"},{"offset":0.195,"color":"#444"},
   {"offset":0.2,"color":"#fff"},{"offset":0.205,"color":"#444"},{"offset":0.21,"color":"#fff"},{"offset":0.215,"color":"#444"},{"offset":0.22,"color":"#fff"},{"offset":0.225,"color":"#444"},{"offset":0.23,"color":"#fff"},{"offset":0.235,"color":"#444"},{"offset":0.24,"color":"#fff"},{"offset":0.245,"color":"#444"},
   {"offset":0.25,"color":"#fff"},{"offset":0.255,"color":"#444"},{"offset":0.26,"color":"#fff"},{"offset":0.265,"color":"#444"},{"offset":0.27,"color":"#fff"},{"offset":0.275,"color":"#444"},{"offset":0.28,"color":"#fff"},{"offset":0.285,"color":"#444"},{"offset":0.29,"color":"#fff"},{"offset":0.295,"color":"#444"},
   {"offset":0.3,"color":"#fff"},{"offset":0.305,"color":"#444"},{"offset":0.31,"color":"#fff"},{"offset":0.315,"color":"#444"},{"offset":0.32,"color":"#fff"},{"offset":0.325,"color":"#444"},{"offset":0.33,"color":"#fff"},{"offset":0.335,"color":"#444"},{"offset":0.34,"color":"#fff"},{"offset":0.345,"color":"#444"},
   {"offset":0.35,"color":"#fff"},{"offset":0.355,"color":"#444"},{"offset":0.36,"color":"#fff"},{"offset":0.365,"color":"#444"},{"offset":0.37,"color":"#fff"},{"offset":0.375,"color":"#444"},{"offset":0.38,"color":"#fff"},{"offset":0.385,"color":"#444"},{"offset":0.39,"color":"#fff"},{"offset":0.395,"color":"#444"},
   {"offset":0.4,"color":"#fff"},{"offset":0.405,"color":"#444"},{"offset":0.41,"color":"#fff"},{"offset":0.415,"color":"#444"},{"offset":0.42,"color":"#fff"},{"offset":0.425,"color":"#444"},{"offset":0.43,"color":"#fff"},{"offset":0.435,"color":"#444"},{"offset":0.44,"color":"#fff"},{"offset":0.445,"color":"#444"},
   {"offset":0.45,"color":"#fff"},{"offset":0.455,"color":"#444"},{"offset":0.46,"color":"#fff"},{"offset":0.465,"color":"#444"},{"offset":0.47,"color":"#fff"},{"offset":0.475,"color":"#444"},{"offset":0.48,"color":"#fff"},{"offset":0.485,"color":"#444"},{"offset":0.49,"color":"#fff"},{"offset":0.495,"color":"#444"},
   {"offset":0.5,"color":"#fff"},{"offset":0.505,"color":"#444"},{"offset":0.51,"color":"#fff"},{"offset":0.515,"color":"#444"},{"offset":0.52,"color":"#fff"},{"offset":0.525,"color":"#444"},{"offset":0.53,"color":"#fff"},{"offset":0.535,"color":"#444"},{"offset":0.54,"color":"#fff"},{"offset":0.545,"color":"#444"},
   {"offset":0.55,"color":"#fff"},{"offset":0.555,"color":"#444"},{"offset":0.56,"color":"#fff"},{"offset":0.565,"color":"#444"},{"offset":0.57,"color":"#fff"},{"offset":0.575,"color":"#444"},{"offset":0.58,"color":"#fff"},{"offset":0.585,"color":"#444"},{"offset":0.59,"color":"#fff"},{"offset":0.595,"color":"#444"},
   {"offset":0.6,"color":"#fff"},{"offset":0.605,"color":"#444"},{"offset":0.61,"color":"#fff"},{"offset":0.615,"color":"#444"},{"offset":0.62,"color":"#fff"},{"offset":0.625,"color":"#444"},{"offset":0.63,"color":"#fff"},{"offset":0.635,"color":"#444"},{"offset":0.64,"color":"#fff"},{"offset":0.645,"color":"#444"},
   {"offset":0.65,"color":"#fff"},{"offset":0.655,"color":"#444"},{"offset":0.66,"color":"#fff"},{"offset":0.665,"color":"#444"},{"offset":0.67,"color":"#fff"},{"offset":0.675,"color":"#444"},{"offset":0.68,"color":"#fff"},{"offset":0.685,"color":"#444"},{"offset":0.69,"color":"#fff"},{"offset":0.695,"color":"#444"},
   {"offset":0.7,"color":"#fff"},{"offset":0.705,"color":"#444"},{"offset":0.71,"color":"#fff"},{"offset":0.715,"color":"#444"},{"offset":0.72,"color":"#fff"},{"offset":0.725,"color":"#444"},{"offset":0.73,"color":"#fff"},{"offset":0.735,"color":"#444"},{"offset":0.74,"color":"#fff"},{"offset":0.745,"color":"#444"},
   {"offset":0.75,"color":"#fff"},{"offset":0.755,"color":"#444"},{"offset":0.76,"color":"#fff"},{"offset":0.765,"color":"#444"},{"offset":0.77,"color":"#fff"},{"offset":0.775,"color":"#444"},{"offset":0.78,"color":"#fff"},{"offset":0.785,"color":"#444"},{"offset":0.79,"color":"#fff"},{"offset":0.795,"color":"#444"},
   {"offset":0.8,"color":"#fff"},{"offset":0.805,"color":"#444"},{"offset":0.81,"color":"#fff"},{"offset":0.815,"color":"#444"},{"offset":0.82,"color":"#fff"},{"offset":0.825,"color":"#444"},{"offset":0.83,"color":"#fff"},{"offset":0.835,"color":"#444"},{"offset":0.84,"color":"#fff"},{"offset":0.845,"color":"#444"},
   {"offset":0.85,"color":"#fff"},{"offset":0.855,"color":"#444"},{"offset":0.86,"color":"#fff"},{"offset":0.865,"color":"#444"},{"offset":0.87,"color":"#fff"},{"offset":0.875,"color":"#444"},{"offset":0.88,"color":"#fff"},{"offset":0.885,"color":"#444"},{"offset":0.89,"color":"#fff"},{"offset":0.895,"color":"#444"},
   {"offset":0.9,"color":"#fff"},{"offset":0.905,"color":"#444"},{"offset":0.91,"color":"#fff"},{"offset":0.915,"color":"#444"},{"offset":0.92,"color":"#fff"},{"offset":0.925,"color":"#444"},{"offset":0.93,"color":"#fff"},{"offset":0.935,"color":"#444"},{"offset":0.94,"color":"#fff"},{"offset":0.945,"color":"#444"},
   {"offset":0.95,"color":"#fff"},{"offset":0.955,"color":"#444"},{"offset":0.96,"color":"#fff"},{"offset":0.965,"color":"#444"},{"offset":0.97,"color":"#fff"},{"offset":0.975,"color":"#444"},{"offset":0.98,"color":"#fff"},{"offset":0.985,"color":"#444"},{"offset":0.99,"color":"#fff"},{"offset":0.995,"color":"#444"},
   {"offset":1,"color":"#fff"}]}},
     "encoding": {"y": {"datum": 0.7873, "type": "quantitative", "title": "C5-4_F1 (N m) - mean value", "scale": {"domain": [0, 1.0535], "nice": false, "zero": false}}, "y2": {"datum": 0}}},
    {"transform": [{"filter": "datum.g === 'BF'"}], "mark": {"type": "bar", "fill": "white", "stroke": "white", "strokeWidth": 3},
     "encoding": {"y": {"field": "f1", "type": "quantitative", "title": "C5-4_F1 (N m) - mean value", "scale": {"domain": [0, 1.0535], "nice": false, "zero": false}}, "y2": {"datum": 0.7873}}},
    {"transform": [{"filter": "datum.g === 'BF'"}], "mark": {"type": "bar", "fill": "transparent", "stroke": "black", "strokeWidth": 2.5},
     "encoding": {"y": {"field": "f1", "type": "quantitative", "title": "C5-4_F1 (N m) - mean value", "scale": {"domain": [0, 1.0535], "nice": false, "zero": false}}, "y2": {"datum": 0}}}
   ]},
   {"transform": [{"calculate": "max(datum.f1, datum.f2)", "as": "ly"}],
    "layer": [
    {"mark": {"type": "line", "color": "black", "strokeWidth": 4},
     "encoding": {"y": {"field": "f2", "type": "quantitative", "title": "C5-4_F2 (N m) - mean value", "scale": {"domain": [0, 1.0535], "nice": false, "zero": false},
       "axis": {"orient": "right", "values": [0, 0.2, 0.4, 0.6, 0.8, 1], "format": ".2f", "domain": false, "tickSize": 18, "tickWidth": 2.5, "labelFontSize": 40, "labelFontWeight": "bold", "labelPadding": 4, "titleFontSize": 52, "titleFontWeight": "bold", "titleAngle": 270, "titleBaseline": "top", "titlePadding": 32}}}},
    {"mark": {"type": "point", "shape": "circle", "filled": true, "fill": "white", "stroke": "black", "strokeWidth": 2, "size": 200, "opacity": 1},
     "encoding": {"y": {"field": "f2", "type": "quantitative", "title": "C5-4_F2 (N m) - mean value", "scale": {"domain": [0, 1.0535], "nice": false, "zero": false}}}},
    {"mark": {"type": "text", "dy": -14, "baseline": "alphabetic", "fontSize": 44, "fontWeight": "bold", "color": "black"},
     "encoding": {"y": {"field": "ly", "type": "quantitative", "title": "C5-4_F2 (N m) - mean value", "scale": {"domain": [0, 1.0535], "nice": false, "zero": false}}, "text": {"field": "lt"}}},
    {"mark": {"type": "text", "dy": -30, "baseline": "alphabetic", "fontSize": 44, "fontWeight": "bold", "color": "black"},
     "encoding": {"y": {"datum": 0, "type": "quantitative", "title": "C5-4_F2 (N m) - mean value", "scale": {"domain": [0, 1.0535], "nice": false, "zero": false}}, "text": {"field": "lb"}}}
   ]}
  ],
  "resolve": {"scale": {"y": "independent"}}
 }
]
}
